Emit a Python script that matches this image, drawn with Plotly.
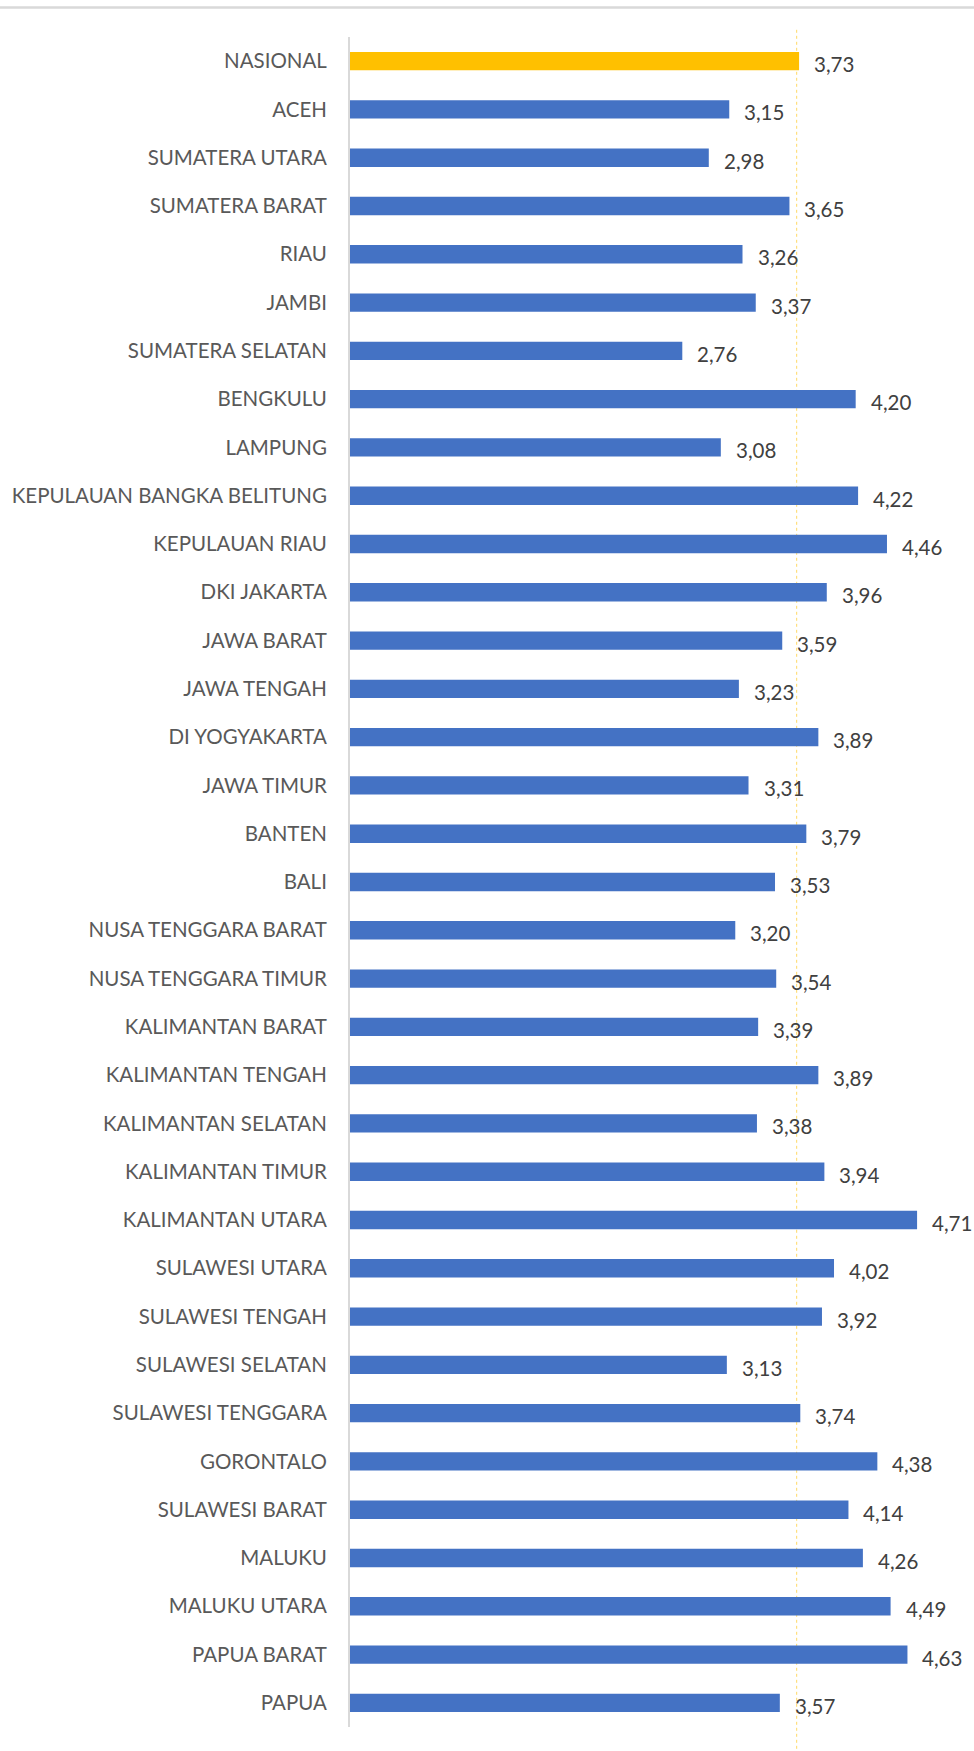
import plotly.graph_objects as go

categories = ["NASIONAL", "ACEH", "SUMATERA UTARA", "SUMATERA BARAT", "RIAU", "JAMBI",
              "SUMATERA SELATAN", "BENGKULU", "LAMPUNG", "KEPULAUAN BANGKA BELITUNG",
              "KEPULAUAN RIAU", "DKI JAKARTA", "JAWA BARAT", "JAWA TENGAH", "DI YOGYAKARTA",
              "JAWA TIMUR", "BANTEN", "BALI", "NUSA TENGGARA BARAT", "NUSA TENGGARA TIMUR",
              "KALIMANTAN BARAT", "KALIMANTAN TENGAH", "KALIMANTAN SELATAN", "KALIMANTAN TIMUR",
              "KALIMANTAN UTARA", "SULAWESI UTARA", "SULAWESI TENGAH", "SULAWESI SELATAN",
              "SULAWESI TENGGARA", "GORONTALO", "SULAWESI BARAT", "MALUKU", "MALUKU UTARA",
              "PAPUA BARAT", "PAPUA"]
values = [3.73, 3.15, 2.98, 3.65, 3.26, 3.37, 2.76, 4.20, 3.08, 4.22, 4.46, 3.96, 3.59,
          3.23, 3.89, 3.31, 3.79, 3.53, 3.20, 3.54, 3.39, 3.89, 3.38, 3.94, 4.71, 4.02,
          3.92, 3.13, 3.74, 4.38, 4.14, 4.26, 4.49, 4.63, 3.57]
national_line = 3.71

BLUE = "#4472C4"
GOLD = "#FFC000"
colors = [GOLD if c == "NASIONAL" else BLUE for c in categories]

FONT = "Lato"
FS = 20.5

fig = go.Figure()
fig.add_trace(go.Bar(
    x=values, y=categories, orientation="h",
    marker=dict(color=colors, line=dict(width=0)),
    hoverinfo="skip",
))

for c, v in zip(categories, values):
    fig.add_annotation(
        x=v, y=c, xref="x", yref="y",
        text=f"{v:.2f}".replace(".", ","),
        showarrow=False, xanchor="left", xshift=13, yshift=-3,
        font=dict(family=FONT, size=FS, color="#404040"),
    )

# national average dotted line
fig.add_shape(type="line", xref="x", yref="paper",
              x0=national_line, x1=national_line, y0=-0.02, y1=1.006,
              line=dict(color="#FFD966", width=1, dash="dot"), layer="below")
# top gray separator line
fig.add_shape(type="line", xref="paper", yref="paper",
              x0=-0.7, x1=1.1, y0=1.0175, y1=1.0175,
              line=dict(color="#D9D9D9", width=2.5))

n = len(categories)
fig.update_layout(
    width=974, height=1751,
    margin=dict(l=345, r=22, t=37, b=24),
    paper_bgcolor="white", plot_bgcolor="white",
    bargap=0.62,
    showlegend=False,
    hovermode=False,
    font=dict(family=FONT, size=FS, color="#595959"),
    xaxis=dict(range=[0, 5], showgrid=False, zeroline=False, showticklabels=False,
               showline=False, ticks="", fixedrange=True),
    yaxis=dict(range=[n - 0.5, -0.5], showgrid=False, zeroline=False,
               showline=True, linecolor="#D9D9D9", linewidth=2,
               ticks="", ticklabelstandoff=17, fixedrange=True,
               tickfont=dict(family=FONT, size=FS, color="#595959")),
)

fig.write_html("out.html", config={"displayModeBar": False},
               post_script="document.body.style.margin='0';")
